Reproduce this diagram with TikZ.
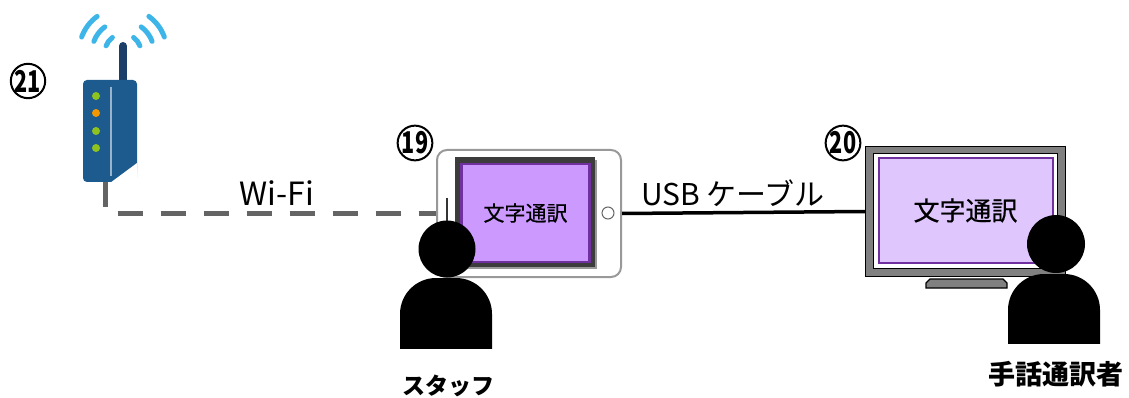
\documentclass[tikz,border=0pt]{standalone}
\usepackage{fontspec}
\setmainfont{Noto Sans CJK JP}
\newfontfamily\jpmed[FakeBold=0.6]{Noto Sans CJK JP}
\usetikzlibrary{calc}
\definecolor{routerblue}{HTML}{1D5B8E}
\definecolor{antenna}{HTML}{1B3F68}
\definecolor{wave}{HTML}{3DB5E8}
\definecolor{ledgreen}{HTML}{8DC21F}
\definecolor{ledorange}{HTML}{F39800}
\definecolor{cable}{HTML}{646464}
\definecolor{tabscreen}{HTML}{CC99FF}
\definecolor{monscreen}{HTML}{DFC6FD}
\definecolor{screenedge}{HTML}{7030A0}
\definecolor{bezel}{HTML}{3C3C3C}
\definecolor{casegray}{HTML}{808080}
\tikzset{
  wavearc/.style={wave, line width=5pt, line cap=round},
  led/.style={circle, inner sep=0pt, minimum size=8pt},
  wifilink/.style={cable, line width=5pt, dash pattern=on 25pt off 18pt},
  usblink/.style={black, line width=3.5pt},
  label/.style={font=\fontsize{#1}{#1}\selectfont, anchor=base},
  screentext/.style={font=\jpmed\fontsize{#1}{#1}\selectfont},
  person/.style={font=\bfseries\fontsize{#1}{#1}\selectfont},
  number/.style={circle, draw=black, line width=2pt, minimum size=34pt, inner sep=0pt,
    font=\bfseries\fontsize{30}{30}\selectfont},
}
\newcommand\tallnum[1]{\raisebox{-0.2pt}{\scalebox{0.72}[1]{#1}}}
\begin{document}
\begin{tikzpicture}[x=1pt, y=-1pt]
\useasboundingbox (0,0) rectangle (1129,398);

% ---- router ----
\draw[antenna, line width=8pt, line cap=round] (123,46) -- (123,84);
\node[fill=routerblue, rounded corners=4pt, minimum width=54pt, minimum height=102pt, inner sep=0pt] (router) at (110,131) {};
\fill[white] (137,163) -- (110,183) -- (138,183) -- cycle;
\draw[white!55!routerblue, line width=1.2pt] (111,87) -- (111,176);
\foreach \y/\c in {96/ledgreen, 113/ledorange, 131/ledgreen, 148/ledgreen}
  \node[led, fill=\c] (led\y) at (96,\y) {};
% radio waves
\foreach \r in {18,31,44} {
  \draw[wavearc] (123,52) ++(-160:\r) arc[start angle=-160, end angle=-126, radius=\r];
  \draw[wavearc] (123,52) ++(-54:\r) arc[start angle=-54, end angle=-20, radius=\r];
}

% ---- tablet ----
\node[draw=black!40, line width=2pt, fill=white, rounded corners=10pt, minimum width=184pt, minimum height=127pt, inner sep=0pt] (tablet) at (529,213.5) {};
\fill[black!40] (457,160) rectangle (597,269);
\fill[bezel] (455,157) rectangle (595,267);
\node[fill=tabscreen, draw=screenedge, line width=2.5pt, minimum width=128pt, minimum height=98pt, inner sep=0pt, screentext=21] (tabscreen) at (525.5,213) {文字通訳};
\node[draw=black!60, circle, line width=1pt, minimum size=12pt, inner sep=0pt] (homebtn) at (608,213) {};
\draw[black!80, line width=1.5pt] (447,198) -- (447,221);

% ---- monitor ----
\node[fill=casegray, draw=black, line width=1.5pt, minimum width=200pt, minimum height=130pt, inner sep=0pt] (monitor) at (965.5,211.5) {};
\node[fill=white, draw=black, line width=1pt, minimum width=184pt, minimum height=115pt, inner sep=0pt] (monframe) at (965.5,211) {};
\node[fill=monscreen, draw=screenedge, line width=2pt, minimum width=174pt, minimum height=104pt, inner sep=0pt, screentext=26] (monscreen) at (965.5,210.5) {文字通訳};
\draw[fill=casegray, line width=1.2pt] (926,288) -- (926,283) -- (930,279) -- (1003,279) -- (1007,283) -- (1007,288) -- cycle;

% ---- connections ----
\coordinate (routerfoot) at ($(router.south west)+(23,0)$);
\draw[wifilink] (routerfoot) |- (tablet.west);
\draw[usblink] (tablet.east) -- (monitor.west);
\node[label=32] (wifilabel) at (277,205) {Wi-Fi};
\node[label=30] (usblabel) at (733,205) {USB ケーブル};

% ---- people ----
\begin{scope}
  \clip (380,200) rectangle (500,348);
  \fill[rounded corners=36pt] (400,278) rectangle (492,400);
\end{scope}
\node[circle, fill=black, minimum size=57pt, inner sep=0pt] (staff) at (447,249) {};
\begin{scope}
  \clip (990,200) rectangle (1110,343);
  \fill[rounded corners=36pt] (1008,274) rectangle (1100,400);
\end{scope}
\node[circle, fill=black, minimum size=58pt, inner sep=0pt] (interp) at (1056,244) {};
\node[person=23] (stafflabel) at (448,386) {スタッフ};
\node[person=27] (interplabel) at (1056,374) {手話通訳者};

% ---- numbers ----
\node[number] (n19) at (415,143) {\tallnum{19}};
\node[number] (n20) at (843,143) {\tallnum{20}};
\node[number] (n21) at (28,81) {\tallnum{21}};
\end{tikzpicture}
\end{document}
